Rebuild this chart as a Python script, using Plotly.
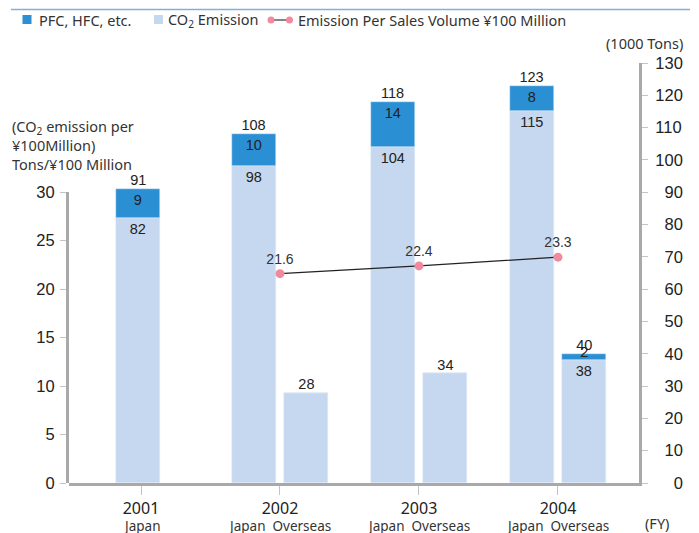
import plotly.graph_objects as go

# 値は図から読み取り
years = ["2001", "2002", "2003", "2004"]
sub_labels = ["Japan", "Japan  Overseas", "Japan  Overseas", "Japan  Overseas"]
japan_co2 = [82, 98, 104, 115]
japan_pfc = [9, 10, 14, 8]
overseas_co2 = [None, 28, 34, 38]
overseas_pfc = [None, None, None, 2]
intensity = [None, 21.6, 22.4, 23.3]

PFC_COLOR = "#2b8fd3"
CO2_COLOR = "#c6d8ef"
PINK = "#f08a9e"
AXIS_GRAY = "#a9a9ab"
TICK_GRAY = "#c4c4c4"
NUM_FONT = "Liberation Sans"
TXT_FONT = "Noto Sans"
LBL = dict(family=NUM_FONT, size=14.5, color="#222")

W, H = 699, 533
OFF = 8  # ページ本体の余白ぶん
PL, PT, PR, PB = 69, 63, 639, 483  # 画面上のプロット領域
PW, PH = PR - PL, PB - PT

pos = list(range(len(years)))
has_ovs = [v is not None for v in overseas_co2]
x_jp = [p - 0.19 if o else p - 0.02 for p, o in zip(pos, has_ovs)]
x_ov = [p + 0.19 for p in pos]
BAR_W = 0.317


def px_x(px):
    return (px - PL) / PW


def px_y(py):
    return (PB - py) / PH


fig = go.Figure()

# Japan
fig.add_trace(go.Bar(
    x=x_jp, y=japan_co2, width=BAR_W, marker_color=CO2_COLOR,
    text=japan_co2, textposition="inside", insidetextanchor="end",
    textfont=LBL, constraintext="none",
))
fig.add_trace(go.Bar(
    x=x_jp, y=japan_pfc, base=japan_co2, width=BAR_W, marker_color=PFC_COLOR,
    text=japan_pfc, textposition="inside", insidetextanchor="end",
    textfont=LBL, constraintext="none",
))

# Overseas
ov_x = [x for x, o in zip(x_ov, has_ovs) if o]
ov_co2 = [v for v in overseas_co2 if v is not None]
ov_pfc = [v if v is not None else 0 for v, o in zip(overseas_pfc, has_ovs) if o]
ov_text = [str(c) if p else "" for c, p in zip(ov_co2, ov_pfc)]
fig.add_trace(go.Bar(
    x=ov_x, y=ov_co2, width=BAR_W, marker_color=CO2_COLOR,
    text=ov_text, textposition="inside", insidetextanchor="end",
    textfont=LBL, constraintext="none",
))
fig.add_trace(go.Bar(
    x=ov_x, y=ov_pfc, base=ov_co2, width=BAR_W, marker_color=PFC_COLOR,
))

# totals above bars
tot_x = x_jp + ov_x
tot_y = [c + p for c, p in zip(japan_co2, japan_pfc)] + [c + p for c, p in zip(ov_co2, ov_pfc)]
fig.add_trace(go.Scatter(
    x=tot_x, y=tot_y, mode="text", text=[str(v) for v in tot_y], textposition="top center",
    textfont=LBL, hoverinfo="skip",
))
# small overseas PFC label
sm = [(x, c + p, p) for x, c, p in zip(ov_x, ov_co2, ov_pfc) if p]
fig.add_trace(go.Scatter(
    x=[s[0] for s in sm], y=[s[1] for s in sm], mode="text", text=[str(s[2]) for s in sm],
    textposition="middle center", textfont=LBL, hoverinfo="skip",
))

# intensity line (left axis)
ix = [p for p, v in zip(pos, intensity) if v is not None]
iy = [v for v in intensity if v is not None]
fig.add_trace(go.Scatter(
    x=ix, y=iy, yaxis="y2", mode="lines+markers+text",
    line=dict(color="#222", width=1.3), marker=dict(color=PINK, size=9),
    text=[f"{v:.1f}" for v in iy], textposition="top center",
    textfont=dict(family=NUM_FONT, size=14, color="#333"),
))

right_vals = list(range(0, 131, 10))
left_vals = list(range(0, 31, 5))


def ann(text, x, y, xanchor="left", yanchor="middle", size=14.5):
    return dict(text=text, xref="paper", yref="paper", x=px_x(x), y=px_y(y),
                xanchor=xanchor, yanchor=yanchor, align="left", showarrow=False,
                borderpad=0, font=dict(family=TXT_FONT, size=size, color="#333"))


def rect(x0, y0, x1, y1, color):
    return dict(type="rect", xref="paper", yref="paper", x0=px_x(x0), x1=px_x(x1),
                y0=px_y(y0), y1=px_y(y1), fillcolor=color, line_width=0)


def dot(cx, cy, r, color):
    return dict(type="circle", xref="paper", yref="paper", x0=px_x(cx - r), x1=px_x(cx + r),
                y0=px_y(cy - r), y1=px_y(cy + r), fillcolor=color, line_width=0)


# 凡例は手作り
legend_shapes = [
    rect(22.5, 15, 31.5, 24, PFC_COLOR),
    rect(154, 15, 163, 24, CO2_COLOR),
    dict(type="line", xref="paper", yref="paper", x0=px_x(271), x1=px_x(290),
         y0=px_y(20), y1=px_y(20), line=dict(color="#444", width=1.3)),
    dot(271, 20, 3.5, PINK),
    dot(289.5, 20, 3.5, PINK),
]

# 年の下の Japan / Overseas
sub_anns = [
    dict(text=s, xref="x", yref="paper", x=p, y=px_y(526), xanchor="center", yanchor="middle",
         showarrow=False, borderpad=0, font=dict(family=TXT_FONT, size=13.5, color="#333"))
    for p, s in zip(pos, sub_labels)
]

axis_common = dict(showgrid=False, zeroline=False, showline=True, linecolor=AXIS_GRAY,
                   linewidth=3, ticks="outside", tickcolor=TICK_GRAY, automargin=False)

fig.update_layout(
    width=W, height=H, paper_bgcolor="white", plot_bgcolor="rgba(0,0,0,0)",
    margin=dict(l=PL - OFF, r=W - (PR - OFF), t=PT - OFF, b=H - (PB - OFF), autoexpand=False),
    barmode="overlay", bargap=0, showlegend=False,
    font=dict(family=TXT_FONT, size=14, color="#333"),
    xaxis=dict(
        range=[-0.518, 3.583], tickvals=pos, ticktext=years, ticklen=9, anchor="y",
        tickfont=dict(family=TXT_FONT, size=16, color="#222"), **axis_common,
    ),
    yaxis=dict(
        range=[0, 130], side="right", anchor="x", tickvals=right_vals,
        ticktext=[f"{v:>3}".replace(" ", "\u2007") for v in right_vals],
        ticklen=6, ticklabelstandoff=4,
        tickfont=dict(family=NUM_FONT, size=16.5, color="#222"), **axis_common,
    ),
    yaxis2=dict(
        range=[0, 30], domain=[0, 90 / 130], side="left", anchor="x", tickvals=left_vals,
        ticklen=6, ticklabelstandoff=2,
        tickfont=dict(family=NUM_FONT, size=16.5, color="#222"), **axis_common,
    ),
    annotations=[
        ann("PFC, HFC, etc.", 38, 20),
        ann("CO<sub>2</sub> Emission", 167, 20),
        ann("Emission Per Sales Volume ¥100 Million", 297, 20),
        ann("(1000 Tons)", 684, 43, xanchor="right"),
        ann("(CO<sub>2</sub> emission per<br>¥100Million)<br>Tons/¥100 Million",
            11, 115, yanchor="top"),
        ann("(FY)", 657, 523, xanchor="center"),
    ] + sub_anns,
    shapes=[
        dict(type="line", xref="paper", yref="paper", x0=px_x(11), x1=px_x(690),
             y0=px_y(9.5), y1=px_y(9.5), line=dict(color="#7fb0dc", width=1.5)),
    ] + legend_shapes,
)

fig.write_html("out.html")
